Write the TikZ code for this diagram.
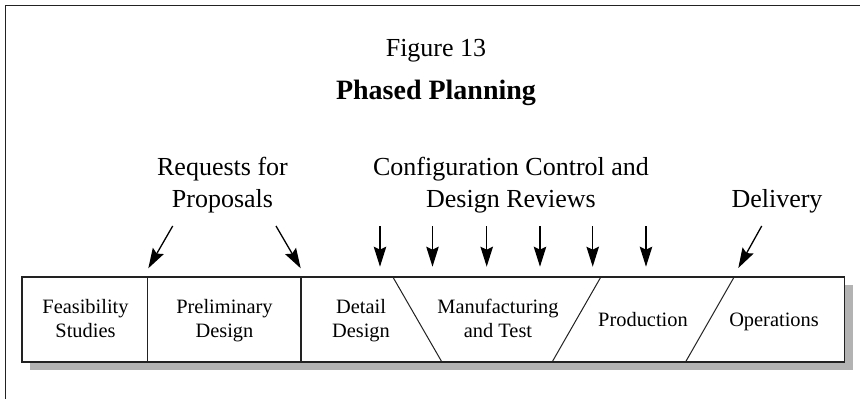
\documentclass[tikz,border=0pt]{standalone}
\usepackage{fontspec}
\setmainfont{Liberation Serif}
\usetikzlibrary{arrows.meta}
\definecolor{ink}{HTML}{222222}
\definecolor{shadowgray}{HTML}{B3B3B3}
\begin{document}
\begin{tikzpicture}[x=1pt,y=-1pt,
  big/.style={font=\fontsize{26}{32}\selectfont, align=center, inner sep=0pt, anchor=base},
  small/.style={font=\fontsize{20.4}{24}\selectfont, align=center, inner sep=0pt, anchor=base},
  arr/.style={-{Stealth[length=20pt,width=12.5pt,inset=3pt]}, line width=1.3pt, draw=black},
  divider/.style={line width=1.3pt, draw=ink},
  slash/.style={line width=1pt, draw=ink}]
\useasboundingbox (0,0) rectangle (860,399);
% frame
\draw[line width=1.5pt, draw=ink] (5.5,399) -- (5.5,5.5) -- (860,5.5);
% titles
\node[big] (fig) at (436,56) {Figure 13};
\node[big, font=\fontsize{28}{32}\selectfont\bfseries] (title) at (436,99) {Phased Planning};
% upper labels (anchor = baseline of last line)
\node[big] (req) at (222.5,207) {Requests for\\Proposals};
\node[big] (cfg) at (511,207) {Configuration Control and\\Design Reviews};
\node[big] (del) at (777,207) {Delivery};
% shadow and box
\fill[fill=shadowgray] (29.5,284.5) rectangle (852.5,369.7);
\filldraw[fill=white, draw=ink, line width=1.6pt] (21.7,276.7) rectangle (844.3,361.7);
\coordinate (d1t) at (147.7,276.7); \coordinate (d1b) at (147.7,361.7);
\coordinate (d2t) at (301,276.7);   \coordinate (d2b) at (301,361.7);
\coordinate (s1t) at (392.7,276.7); \coordinate (s1b) at (441.7,361.7);
\coordinate (s2t) at (601,276.7);   \coordinate (s2b) at (552.3,361.7);
\coordinate (s3t) at (734.3,276.7); \coordinate (s3b) at (685.7,361.7);
\draw[divider] (d1t) -- (d1b);
\draw[divider] (d2t) -- (d2b);
\draw[slash] (s1t) -- (s1b);
\draw[slash] (s2t) -- (s2b);
\draw[slash] (s3t) -- (s3b);
% box labels
\node[small] (feas) at (85.5,337.3) {Feasibility\\Studies};
\node[small] (prel) at (224.5,337.3) {Preliminary\\Design};
\node[small] (det) at (361,337.3) {Detail\\Design};
\node[small] (man) at (498,337) {Manufacturing\\and Test};
\node[small] (prod) at (643,326.7) {Production};
\node[small] (ops) at (774,326.7) {Operations};
% arrows
\coordinate (ra1) at (172.7,226); \coordinate (rb1) at (148.3,268.3);
\coordinate (ra2) at (276,226);   \coordinate (rb2) at (300.7,268.3);
\foreach \i/\x in {1/380,2/432.5,3/486.7,4/540,5/592.7,6/646}{
  \coordinate (ca\i) at (\x,226); \coordinate (cb\i) at (\x,266.7);
  \draw[arr] (ca\i) -- (cb\i);
}
\coordinate (da) at (761.7,226); \coordinate (db) at (738.3,268);
\draw[arr] (ra1) -- (rb1);
\draw[arr] (ra2) -- (rb2);
\draw[arr] (da) -- (db);
\end{tikzpicture}
\end{document}
